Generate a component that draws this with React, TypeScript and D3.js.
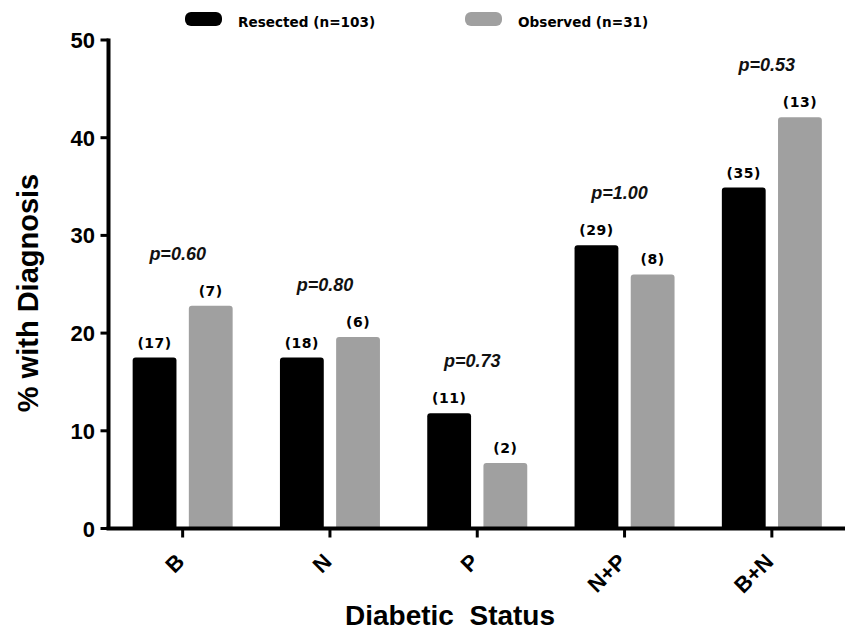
import React from "react";
import * as d3 from "d3";

const categories = ["B", "N", "P", "N+P", "B+N"];
const seriesNames = ["Resected (n=103)", "Observed (n=31)"];
const resected = [17.5, 17.5, 11.8, 29.0, 34.9];
const observed = [22.8, 19.6, 6.7, 26.0, 42.1];
const resectedCounts = ["(17)", "(18)", "(11)", "(29)", "(35)"];
const observedCounts = ["(7)", "(6)", "(2)", "(8)", "(13)"];
const pValues = ["p=0.60", "p=0.80", "p=0.73", "p=1.00", "p=0.53"];
const yTicks = [0, 10, 20, 30, 40, 50];

const W = 849;
const H = 632;
const colors = ["#000000", "#a0a0a0"];

function topRoundedBar(x: number, y: number, w: number, h: number, r: number) {
  const p = d3.path();
  p.moveTo(x, y + h);
  p.lineTo(x, y + r);
  p.arcTo(x, y, x + r, y, r);
  p.lineTo(x + w - r, y);
  p.arcTo(x + w, y, x + w, y + r, r);
  p.lineTo(x + w, y + h);
  p.closePath();
  return p.toString();
}

export default function App() {
  const x0 = d3.scaleBand<string>().domain(categories).range([109, 845.5]);
  const x1 = d3.scaleBand<string>().domain(seriesNames).range([-50, 50]).paddingInner(0.22);
  const y = d3.scaleLinear().domain([0, 50]).range([528.5, 40]);
  const axisX = 108.5;
  const center = (c: string) => (x0(c) as number) + x0.bandwidth() / 2;
  const series = [resected, observed];
  const counts = [resectedCounts, observedCounts];
  const countFont = "'DejaVu Sans', sans-serif";
  const arial = "'Liberation Sans', Arial, sans-serif";

  return (
    <svg width={W} height={H} style={{ position: "absolute", left: 0, top: 0, background: "#fff" }}>
      <rect x={0} y={0} width={W} height={H} fill="#fff" />
      {/* legend */}
      {seriesNames.map((s, i) => {
        const lx = i === 0 ? 185 : 465;
        return (
          <g key={s}>
            <rect x={lx} y={12} width={37} height={14} rx={6} fill={colors[i]} />
            <text x={lx + 53} y={27} fontFamily={countFont} fontWeight="bold" fontSize={13.6} fill="#000">
              {s}
            </text>
          </g>
        );
      })}

      {/* bars */}
      {categories.map((c, ci) => (
        <g key={c}>
          {seriesNames.map((s, si) => {
            const v = series[si][ci];
            const bx = center(c) + (x1(s) as number);
            const bw = x1.bandwidth();
            const by = y(v);
            return (
              <g key={s}>
                <path d={topRoundedBar(bx, by, bw, y(0) - by, 3)} fill={colors[si]} />
                <text
                  x={bx + bw / 2}
                  y={by - 10}
                  textAnchor="middle"
                  fontFamily={countFont}
                  fontWeight="bold"
                  fontSize={14}
                  letterSpacing={0.5}
                  fill="#000"
                >
                  {counts[si][ci]}
                </text>
              </g>
            );
          })}
          <text
            x={center(c) - 5}
            y={y(Math.max(resected[ci], observed[ci])) - 46}
            textAnchor="middle"
            fontFamily={arial}
            fontStyle="italic"
            fontWeight="bold"
            fontSize={18}
            fill="#111"
          >
            {pValues[ci]}
          </text>
        </g>
      ))}

      {/* y axis */}
      <line x1={axisX} x2={axisX} y1={y(50) - 1.5} y2={y(0)} stroke="#000" strokeWidth={4} />
      {yTicks.map((t) => (
        <g key={t}>
          <line x1={100.5} x2={axisX} y1={y(t)} y2={y(t)} stroke="#000" strokeWidth={3} />
          <text x={95} y={y(t) + 8} textAnchor="end" fontFamily={arial} fontWeight="bold" fontSize={22} fill="#000">
            {t}
          </text>
        </g>
      ))}

      {/* x axis */}
      <line x1={axisX - 2} x2={845} y1={y(0)} y2={y(0)} stroke="#000" strokeWidth={4} />
      {categories.map((c) => (
        <g key={c}>
          <line x1={center(c)} x2={center(c)} y1={y(0)} y2={y(0) + 9} stroke="#000" strokeWidth={3} />
          <text
            transform={`translate(${center(c) + 3},563) rotate(-45)`}
            textAnchor="end"
            fontFamily={arial}
            fontWeight="bold"
            fontSize={22}
            fill="#000"
          >
            {c}
          </text>
        </g>
      ))}

      {/* axis titles */}
      <text
        transform={`translate(38,293) rotate(-90)`}
        textAnchor="middle"
        fontFamily={arial}
        fontWeight="bold"
        fontSize={29}
        fill="#000"
      >
        % with Diagnosis
      </text>
      <text x={450} y={625} textAnchor="middle" fontFamily={arial} fontWeight="bold" fontSize={28} fill="#000" xmlSpace="preserve">
        {"Diabetic  Status"}
      </text>
    </svg>
  );
}
